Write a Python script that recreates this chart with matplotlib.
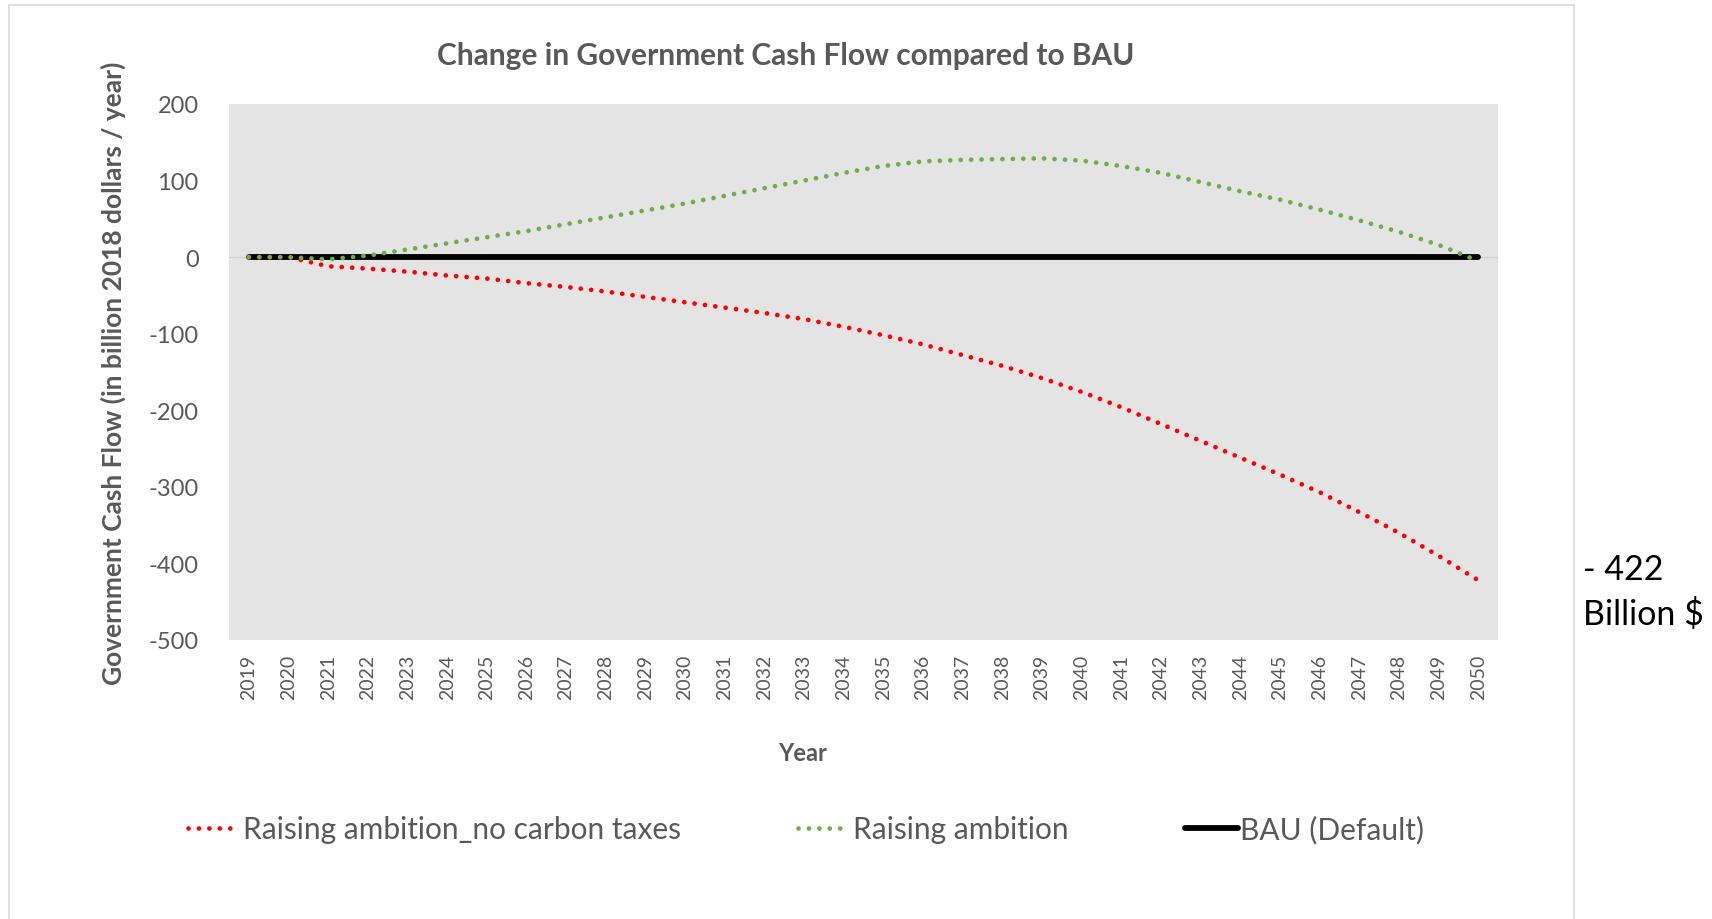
import numpy as np
import matplotlib.pyplot as plt
from matplotlib.patches import Rectangle

plt.rcParams['font.family'] = ['Lato', 'DejaVu Sans']
plt.rcParams['axes.unicode_minus'] = False

years = list(range(2019, 2051))
no_carbon_taxes = [0, 0, -12, -15, -19, -24, -28, -34, -39, -45, -52, -59, -66, -73, -81, -91,
                   -102, -114, -128, -142, -158, -176, -196, -218, -240, -262, -284, -307,
                   -333, -360, -390, -422]
raising_ambition = [0, 0, -3, 2, 10, 18, 26, 34, 43, 52, 61, 70, 80, 90, 100, 110,
                    119, 125, 127, 128, 129, 126, 119, 110, 98, 86, 75, 62, 48, 33, 16, -5]
bau = [0] * len(years)

grey = '#595959'

fig = plt.figure(figsize=(17.12, 9.2), dpi=100)
fig.patches.append(Rectangle((9 / 1712, -0.1), 1565 / 1712, 1.094, transform=fig.transFigure,
                             fill=False, edgecolor='#d9d9d9', linewidth=1.2))

ax = fig.add_axes([0.1338, 0.3033, 0.7412, 0.5826])
ax.set_facecolor('#e4e4e4')
ax.axhline(0, color='#d0d0d0', linewidth=1, zorder=1)

ax.plot(years, no_carbon_taxes, color='#ff0000', linewidth=3.4, linestyle=(0, (0.01, 2.2)),
        dash_capstyle='round', label='Raising ambition_no carbon taxes', zorder=3)
ax.plot(years, raising_ambition, color='#70ad47', linewidth=3.4, linestyle=(0, (0.01, 2.2)),
        dash_capstyle='round', label='Raising ambition', zorder=3)
ax.plot(years, bau, color='black', linewidth=4.2, solid_capstyle='round',
        label='BAU (Default)', zorder=2)

ax.set_xlim(2018.5, 2050.5)
ax.set_ylim(-500, 200)
ax.set_xticks(years)
ax.set_xticklabels([str(y) for y in years], rotation=90, fontsize=14, color=grey)
ax.set_yticks(range(-500, 201, 100))
ax.tick_params(axis='y', labelsize=17, colors=grey, length=0, pad=22)
ax.tick_params(axis='x', length=0, pad=10)
for s in ax.spines.values():
    s.set_visible(False)

ax.set_xlabel('Year', fontsize=17, fontweight='bold', color=grey, labelpad=30, x=0.452)
ax.set_ylabel('Government Cash Flow (in billion 2018 dollars / year)', fontsize=19,
              fontweight='bold', color=grey, labelpad=16)
fig.text(0.459, 0.939, 'Change in Government Cash Flow compared to BAU', fontsize=21.5,
         fontweight='bold', color=grey, ha='center', va='center')

fig.legend(loc='center', bbox_to_anchor=(0.471, 0.098), ncol=3, frameon=False,
           fontsize=21.5, labelcolor=grey, handlelength=1.75, handletextpad=0.1,
           columnspacing=3.9)

fig.text(1583 / 1712, 1 - 570 / 920, '- 422', fontsize=24.5, color='black', va='center')
fig.text(1583 / 1712, 1 - 615 / 920, 'Billion $', fontsize=24.5, color='black', va='center')

fig.savefig('out.png', dpi=100)
